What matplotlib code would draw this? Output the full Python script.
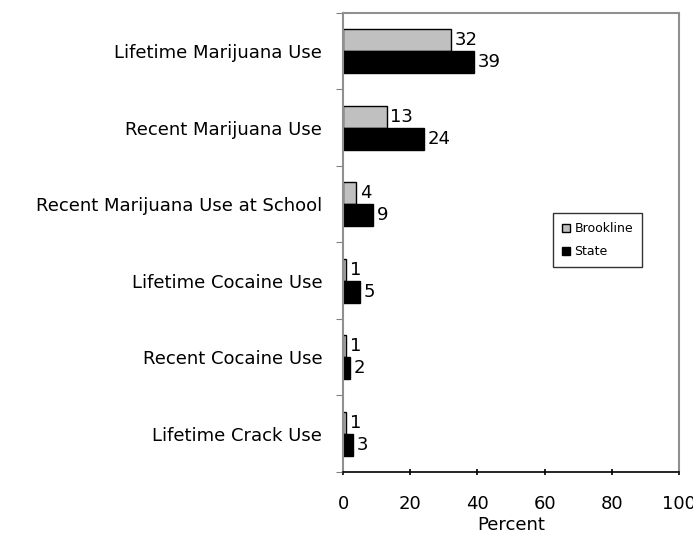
import matplotlib
matplotlib.use("Agg")
import matplotlib.pyplot as plt
import numpy as np

categories = ["Lifetime Marijuana Use", "Recent Marijuana Use", "Recent Marijuana Use at School",
              "Lifetime Cocaine Use", "Recent Cocaine Use", "Lifetime Crack Use"]
brookline = [32, 13, 4, 1, 1, 1]
state = [39, 24, 9, 5, 2, 3]
series_names = ["Brookline", "State"]
xticks = [0, 20, 40, 60, 80, 100]

plt.rcParams['font.family'] = ['DejaVu Sans']
fig = plt.figure(figsize=(6.93, 5.35), dpi=100)
ax = fig.add_axes([0.495, 0.118, 0.485, 0.858])

n = len(categories)
y = np.arange(n)
h = 0.288
b1 = ax.barh(y - h/2, brookline, height=h, color='#c0c0c0', edgecolor='black', linewidth=1, label=series_names[0])
b2 = ax.barh(y + h/2, state, height=h, color='black', edgecolor='black', linewidth=1, label=series_names[1])
for rect, v in zip(b1, brookline):
    ax.text(rect.get_width() + 1.1, rect.get_y() + rect.get_height()/2, str(v), va='center', ha='left', fontsize=13)
for rect, v in zip(b2, state):
    ax.text(rect.get_width() + 1.1, rect.get_y() + rect.get_height()/2, str(v), va='center', ha='left', fontsize=13)

ax.set_ylim(n - 0.5, -0.5)
ax.set_xlim(0, 100)
ax.set_xticks(xticks)
ax.set_xticklabels([str(t) for t in xticks], fontsize=13)
ax.set_yticks(np.arange(n + 1) - 0.5)
ax.set_yticklabels([])
ax.set_yticks(y, minor=True)
ax.set_yticklabels(categories, minor=True, fontsize=13)
ax.tick_params(axis='y', which='minor', length=0, pad=15)
ax.tick_params(axis='y', which='major', length=5, color='#808080', direction='out')
ax.tick_params(axis='x', length=5, direction='inout', width=1.2, pad=14)
ax.set_xlabel("Percent", fontsize=13, labelpad=2)

for s in ['top', 'right', 'left']:
    ax.spines[s].set_color('#909090')
    ax.spines[s].set_linewidth(1.5)
ax.spines['bottom'].set_color('black')
ax.spines['bottom'].set_linewidth(1.2)

leg = ax.legend(loc='center left', bbox_to_anchor=(0.607, 0.505), fontsize=9, frameon=True,
                fancybox=False, edgecolor='black', handlelength=0.6, handleheight=0.6,
                handletextpad=0.4, borderpad=0.7, labelspacing=0.8)
leg.get_frame().set_linewidth(1)

fig.savefig("out.png", dpi=100, facecolor='white')
